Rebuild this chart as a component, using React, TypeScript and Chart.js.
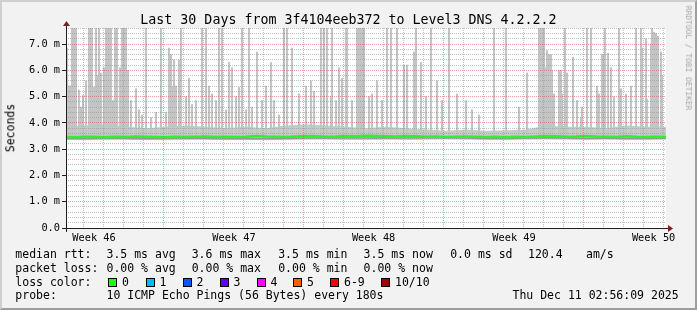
import React, { useEffect, useRef } from 'react';
import { Chart, registerables } from 'chart.js';

Chart.register(...registerables);

const MONO = "'DejaVu Sans Mono', monospace";
const TITLE = 'Last 30 Days from 3f4104eeb372 to Level3 DNS 4.2.2.2';

// axis ranges (days on x, milliseconds on y)
const DAYS = 30;
const Y_MAX = 7.61;
const Y_STEP = 0.2;
const DAY_GRID_START = 0.875;
const weekGridDays = [4.875, 11.875, 18.875, 25.875];
const weekLabelDays = [1.4, 8.4, 15.38, 22.4, 29.38];
const weekLabels = ['Week 46', 'Week 47', 'Week 48', 'Week 49', 'Week 50'];

// median rtt (ms), one value every half day
const MEDIAN_STEP = 0.5;
const medianRtt = [
  3.46, 3.45, 3.47, 3.46, 3.45, 3.47, 3.46, 3.48, 3.47, 3.46, 3.45, 3.47, 3.46, 3.47, 3.48, 3.46,
  3.47, 3.46, 3.47, 3.5, 3.48, 3.47, 3.46, 3.48, 3.5, 3.49, 3.47, 3.48, 3.5, 3.49, 3.51, 3.5,
  3.49, 3.48, 3.5, 3.49, 3.47, 3.48, 3.46, 3.47, 3.48, 3.47, 3.46, 3.47, 3.45, 3.47, 3.46, 3.48,
  3.5, 3.49, 3.47, 3.48, 3.5, 3.48, 3.47, 3.46, 3.49, 3.47, 3.46, 3.47, 3.46,
];

// dense smoke band (ms), one value per day
const SMOKE_STEP = 1;
const smokeTop = [
  3.85, 3.9, 3.95, 3.85, 3.8, 3.85, 3.9, 3.85, 3.8, 3.85, 3.8, 3.9, 3.95, 3.9, 3.85, 3.8,
  3.85, 3.8, 3.75, 3.7, 3.75, 3.7, 3.72, 3.75, 3.9, 3.85, 3.85, 3.8, 3.9, 3.85, 3.85,
];
const smokeBottom = [
  3.35, 3.34, 3.35, 3.36, 3.35, 3.34, 3.35, 3.36, 3.35, 3.35, 3.34, 3.35, 3.36, 3.36, 3.35, 3.35,
  3.36, 3.35, 3.36, 3.37, 3.36, 3.35, 3.35, 3.36, 3.37, 3.36, 3.35, 3.36, 3.35, 3.35, 3.36,
];
const smokeDense = [
  3.41, 3.4, 3.42, 3.41, 3.4, 3.41, 3.42, 3.41, 3.4, 3.41, 3.4, 3.41, 3.42, 3.43, 3.42, 3.42,
  3.43, 3.42, 3.43, 3.43, 3.42, 3.41, 3.41, 3.42, 3.43, 3.42, 3.41, 3.42, 3.41, 3.41, 3.42,
];

// outlier smoke spikes: day position and highest ping (ms)
const SPIKE_BASE = 3.5;
const spikeDays = [
  0.05, 0.15, 0.2, 0.3, 0.4, 0.5, 0.65, 0.75, 0.85, 1.0, 1.15, 1.2, 1.3, 1.4, 1.5, 1.55,
  1.65, 1.75, 1.9, 2.0, 2.05, 2.1, 2.15, 2.2, 2.25, 2.35, 2.45, 2.55, 2.7, 2.8, 2.9, 3.0,
  3.1, 3.25, 3.5, 3.65, 3.8, 4.0, 4.25, 4.5, 4.75, 5.0, 5.15, 5.25, 5.3, 5.4, 5.5, 5.65,
  5.75, 6.0, 6.15, 6.3, 6.5, 6.8, 7.0, 7.15, 7.3, 7.5, 7.65, 7.8, 8.0, 8.15, 8.3, 8.5,
  8.65, 8.8, 9.0, 9.15, 9.3, 9.55, 9.8, 10.0, 10.25, 10.4, 10.65, 10.9, 11.05, 11.3, 11.65, 12.0,
  12.25, 12.4, 12.75, 12.9, 13.05, 13.25, 13.3, 13.5, 13.65, 13.8, 14.0, 14.05, 14.3, 14.55, 14.65, 14.75,
  14.85, 14.9, 15.15, 15.3, 15.55, 15.8, 16.05, 16.25, 16.55, 16.9, 17.05, 17.4, 17.5, 17.75, 18.0, 18.25,
  18.55, 18.8, 19.15, 19.55, 20.0, 20.3, 20.65, 21.4, 22.0, 22.65, 23.05, 23.65, 23.7, 23.75, 23.8, 23.85,
  23.9, 24.0, 24.05, 24.15, 24.25, 24.3, 24.4, 24.65, 24.75, 24.8, 24.95, 25.05, 25.35, 25.55, 25.75, 25.8,
  26.05, 26.25, 26.55, 26.65, 26.8, 26.85, 26.95, 27.1, 27.25, 27.4, 27.65, 27.75, 28.0, 28.25, 28.5, 28.75,
  28.8, 29.0, 29.05, 29.25, 29.3, 29.4, 29.5, 29.6, 29.75, 29.8,
];
const spikeTops = [
  6.85, 5.4, 5.4, 9, 9, 9, 5.25, 4.6, 5.05, 5.6, 9, 9, 9, 5.35, 9, 5.8,
  9, 5.9, 6.1, 9, 9, 9, 9, 9, 9, 4.85, 9, 9, 6.1, 9, 9, 9,
  6.0, 4.85, 5.3, 4.5, 4.3, 9, 4.2, 4.4, 9, 4.4, 6.85, 6.6, 5.35, 6.4, 5.4, 6.4,
  9, 5.0, 5.7, 4.7, 4.85, 9, 9, 5.4, 5.1, 4.85, 9, 9, 4.5, 6.3, 6.1, 5.0,
  5.35, 9, 4.5, 9, 4.6, 6.7, 4.85, 5.4, 6.3, 4.85, 4.3, 9, 9, 6.85, 5.1, 5.4,
  5.6, 5.2, 9, 9, 9, 5.0, 9, 4.85, 6.1, 5.7, 9, 9, 4.85, 9, 9, 9,
  9, 9, 5.0, 5.1, 5.6, 4.85, 9, 9, 9, 6.2, 6.2, 6.7, 9, 6.3, 5.0, 9,
  5.6, 4.85, 9, 5.1, 4.85, 4.5, 4.3, 9, 9, 4.6, 5.9, 9, 9, 9, 9, 9,
  9, 6.1, 6.75, 6.6, 6.6, 6.0, 5.1, 6.0, 6.0, 5.1, 9, 5.9, 6.5, 4.85, 4.2, 4.6,
  9, 9, 5.4, 5.1, 6.6, 6.6, 9, 6.65, 6.1, 5.0, 9, 5.3, 5.1, 5.4, 9, 9,
  6.85, 7.2, 4.9, 7.0, 9, 7.45, 7.4, 7.3, 6.7, 5.8,
];

// legend
const rttStats = ['3.5 ms avg', '3.6 ms max', '3.5 ms min', '3.5 ms now', '0.0 ms sd', '120.4', 'am/s'];
const rttStatX = [106.5, 191.7, 278.2, 363.6, 450.2, 528, 586];
const lossStats = ['0.00 % avg', '0.00 % max', '0.00 % min', '0.00 % now'];
const lossColors = ['#26ff00', '#00b8ff', '#0059ff', '#5e00ff', '#ff00ff', '#ff5e00', '#ff0000', '#a10000'];
const lossLabels = ['0', '1', '2', '3', '4', '5', '6-9', '10/10'];
const lossSwatchX = [108, 145.5, 182.5, 219.5, 256.5, 293, 330, 381];
const PROBE = '10 ICMP Echo Pings (56 Bytes) every 180s';
const STAMP = 'Thu Dec 11 02:56:09 2025';

const GRID = 'rgba(143,143,143,0.55)';
const MGRID = 'rgba(222,79,79,0.55)';
const AXIS = '#1f1f1f';
const ARROW = '#801f1f';

const isMajorY = (v: number) => Math.abs(v - Math.round(v)) < 1e-6;
const isMajorX = (v: number) => weekGridDays.some((w) => Math.abs(w - v) < 1e-6);

const rrdPlugin = {
  id: 'rrdFrame',
  beforeDraw(chart: any) {
    const { ctx, chartArea: a } = chart;
    ctx.save();
    ctx.fillStyle = '#ffffff';
    ctx.fillRect(a.left, a.top, a.right - a.left, a.bottom - a.top);
    ctx.restore();
  },
  afterDraw(chart: any) {
    const { ctx, chartArea: a } = chart;
    const x0 = Math.round(a.left);
    const y0 = Math.round(a.bottom);
    const x1 = Math.round(a.right);
    const yt = Math.round(a.top);
    ctx.save();
    ctx.fillStyle = AXIS;
    ctx.fillRect(x0 - 4, y0, x1 - x0 + 8, 1);
    ctx.fillRect(x0, yt - 4, 1, y0 - yt + 8);
    ctx.fillStyle = ARROW;
    ctx.beginPath();
    ctx.moveTo(x0 - 3, yt - 2);
    ctx.lineTo(x0 + 4, yt - 2);
    ctx.lineTo(x0 + 0.5, yt - 7);
    ctx.closePath();
    ctx.fill();
    ctx.beginPath();
    ctx.moveTo(x1 + 2, y0 - 3);
    ctx.lineTo(x1 + 2, y0 + 4);
    ctx.lineTo(x1 + 7, y0 + 0.5);
    ctx.closePath();
    ctx.fill();
    ctx.restore();
  },
};

function Txt(props: { x: number; cy: number; size: number; color?: string; children: React.ReactNode }) {
  const { x, cy, size, color = '#000', children } = props;
  return (
    <div
      style={{
        position: 'absolute',
        left: x,
        top: cy - 0.48 * size,
        fontFamily: MONO,
        fontSize: size,
        lineHeight: `${size}px`,
        whiteSpace: 'pre',
        color,
      }}
    >
      {children}
    </div>
  );
}

export default function App() {
  const canvasRef = useRef<HTMLCanvasElement | null>(null);

  useEffect(() => {
    const canvas = canvasRef.current;
    if (!canvas) return;

    const medianData = medianRtt.map((v, i) => ({ x: i * MEDIAN_STEP, y: v }));
    const topData = smokeTop.map((v, i) => ({ x: i * SMOKE_STEP, y: v }));
    const bottomData = smokeBottom.map((v, i) => ({ x: i * SMOKE_STEP, y: v }));
    const denseData = smokeDense.map((v, i) => ({ x: i * SMOKE_STEP, y: v }));
    const spikeData = spikeDays.map((d, i) => ({ x: d, y: [SPIKE_BASE, spikeTops[i]] }));

    const tickFont = { family: MONO, size: 10.3 };

    const chart = new Chart(canvas, {
      type: 'bar',
      data: {
        datasets: [
          {
            type: 'line',
            label: 'median rtt',
            data: medianData,
            borderColor: '#2af52a',
            borderWidth: 2.5,
            pointRadius: 0,
            tension: 0,
            fill: false,
            order: 1,
          },
          {
            type: 'line',
            label: 'dense smoke',
            data: denseData,
            borderColor: '#9a9a9a',
            borderWidth: 1.5,
            pointRadius: 0,
            tension: 0,
            fill: false,
            order: 2,
          },
          {
            type: 'bar',
            label: 'smoke spikes',
            data: spikeData,
            backgroundColor: '#c4c4c4',
            borderWidth: 0,
            barThickness: 1.5,
            grouped: false,
            order: 3,
          },
          {
            type: 'line',
            label: 'smoke top',
            data: topData,
            borderColor: 'rgba(0,0,0,0)',
            borderWidth: 1,
            backgroundColor: '#cacaca',
            pointRadius: 0,
            tension: 0,
            fill: 4,
            order: 4,
          },
          {
            type: 'line',
            label: 'smoke bottom',
            data: bottomData,
            borderColor: 'rgba(0,0,0,0)',
            borderWidth: 1,
            pointRadius: 0,
            tension: 0,
            fill: false,
            order: 5,
          },
        ] as any,
      },
      options: {
        animation: false,
        responsive: false,
        maintainAspectRatio: false,
        events: [],
        layout: { padding: { left: 0, right: 31, top: 28, bottom: 62 } },
        plugins: {
          legend: { display: false },
          tooltip: { enabled: false },
          title: { display: false },
        },
        scales: {
          x: {
            type: 'linear',
            position: 'bottom',
            min: 0,
            max: DAYS,
            offset: false,
            afterBuildTicks: (scale: any) => {
              const t = [];
              for (let d = DAY_GRID_START; d < DAYS; d += 1) t.push({ value: d });
              scale.ticks = t;
            },
            afterFit: (scale: any) => {
              scale.height = 0;
            },
            ticks: { display: false },
            grid: {
              offset: false,
              drawTicks: false,
              lineWidth: 1,
              z: 1,
              color: (ctx: any) => (ctx.tick && isMajorX(ctx.tick.value) ? MGRID : GRID),
            },
            border: { display: false, dash: [1, 1] },
          },
          xl: {
            type: 'linear',
            position: 'bottom',
            min: 0,
            max: DAYS,
            offset: false,
            afterBuildTicks: (scale: any) => {
              scale.ticks = weekLabelDays.map((d) => ({ value: d }));
            },
            afterFit: (scale: any) => {
              scale.height = 20;
            },
            grid: { display: false, drawTicks: false, offset: false },
            border: { display: false },
            ticks: {
              autoSkip: false,
              maxRotation: 0,
              minRotation: 0,
              padding: 4,
              color: '#000',
              font: tickFont,
              callback: (_v: any, i: number) => weekLabels[i],
            },
          },
          y: {
            type: 'linear',
            position: 'left',
            min: 0,
            max: Y_MAX,
            afterBuildTicks: (scale: any) => {
              const t = [];
              for (let i = 0; i * Y_STEP <= Y_MAX + 1e-9; i++) t.push({ value: Math.round(i * Y_STEP * 10) / 10 });
              scale.ticks = t;
            },
            afterFit: (scale: any) => {
              scale.width = 66;
            },
            grid: {
              drawTicks: true,
              tickLength: 4,
              lineWidth: 1,
              z: 1,
              color: (ctx: any) => (ctx.tick && isMajorY(ctx.tick.value) ? MGRID : GRID),
              tickColor: (ctx: any) => (ctx.tick && isMajorY(ctx.tick.value) ? AXIS : 'rgba(0,0,0,0)'),
            },
            border: { display: false, dash: [1, 1] },
            ticks: {
              autoSkip: false,
              padding: 2,
              color: '#000',
              font: tickFont,
              callback: (v: any) => {
                const n = Number(v);
                if (!isMajorY(n)) return '';
                return n === 0 ? '0.0' : `${n.toFixed(1)} m`;
              },
            },
          },
        },
      } as any,
      plugins: [rrdPlugin],
    });

    return () => chart.destroy();
  }, []);

  const rowY = [254.2, 268.2, 282.2, 296];

  return (
    <div
      style={{
        position: 'absolute',
        left: 0,
        top: 0,
        width: 697,
        height: 310,
        background: '#f2f2f2',
        overflow: 'hidden',
      }}
    >
      <canvas ref={canvasRef} width={697} height={310} style={{ position: 'absolute', left: 0, top: 0, display: 'block' }} />
      <Txt x={348.5 - (TITLE.length * 13.3 * 0.602) / 2} cy={19} size={13.3}>
        {TITLE}
      </Txt>
      <div
        style={{
          position: 'absolute',
          left: 11,
          top: 128,
          transform: 'translate(-50%, -50%) rotate(-90deg)',
          fontFamily: MONO,
          fontSize: 11.5,
          lineHeight: '11.5px',
          whiteSpace: 'pre',
          color: '#000',
        }}
      >
        Seconds
      </div>
      <div
        style={{
          position: 'absolute',
          left: 688,
          top: 58,
          transform: 'translate(-50%, -50%) rotate(90deg)',
          fontFamily: MONO,
          fontSize: 7.9,
          lineHeight: '7.9px',
          whiteSpace: 'pre',
          color: '#a8a8a8',
        }}
      >
        RRDTOOL / TOBI OETIKER
      </div>

      <Txt x={15.3} cy={rowY[0]} size={11.5}>median rtt:</Txt>
      {rttStats.map((s, i) => (
        <Txt key={'r' + i} x={rttStatX[i]} cy={rowY[0]} size={11.5}>
          {s}
        </Txt>
      ))}

      <Txt x={15.3} cy={rowY[1]} size={11.5}>packet loss:</Txt>
      {lossStats.map((s, i) => (
        <Txt key={'l' + i} x={rttStatX[i]} cy={rowY[1]} size={11.5}>
          {s}
        </Txt>
      ))}

      <Txt x={15.3} cy={rowY[2]} size={11.5}>loss color:</Txt>
      {lossColors.map((c, i) => (
        <React.Fragment key={'c' + i}>
          <div
            style={{
              position: 'absolute',
              left: lossSwatchX[i],
              top: 278,
              width: 9,
              height: 9,
              boxSizing: 'border-box',
              border: '1px solid #000',
              background: c,
            }}
          />
          <Txt x={lossSwatchX[i] + 14} cy={rowY[2]} size={11.5}>
            {lossLabels[i]}
          </Txt>
        </React.Fragment>
      ))}

      <Txt x={15.3} cy={rowY[3]} size={11.5}>probe:</Txt>
      <Txt x={106.5} cy={rowY[3]} size={11.5}>{PROBE}</Txt>
      <Txt x={512.5} cy={rowY[3]} size={11.5}>{STAMP}</Txt>

      <div
        style={{
          position: 'absolute',
          left: 0,
          top: 0,
          width: 697,
          height: 310,
          boxSizing: 'border-box',
          borderTop: '2px solid #cfcfcf',
          borderLeft: '2px solid #cfcfcf',
          borderRight: '2px solid #9e9e9e',
          borderBottom: '2px solid #9e9e9e',
          pointerEvents: 'none',
        }}
      />
    </div>
  );
}
